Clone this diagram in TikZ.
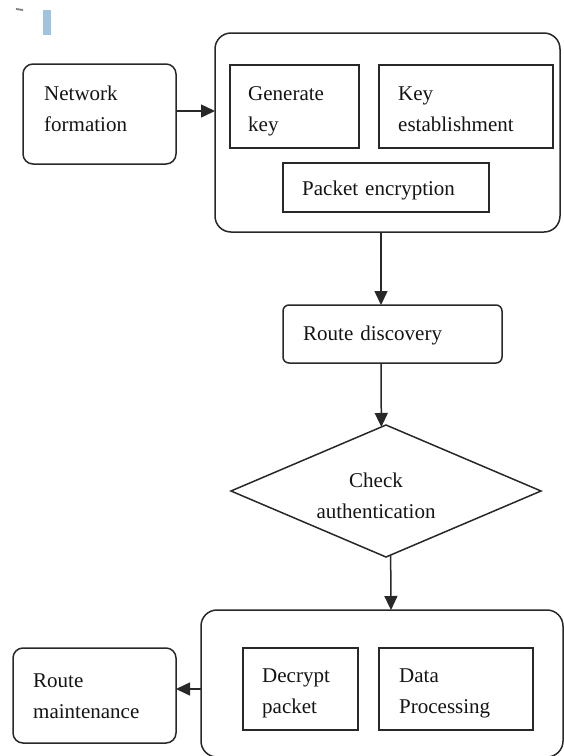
\documentclass[tikz,border=0pt]{standalone}
\usepackage{fontspec}
\setmainfont{Liberation Serif}
\usetikzlibrary{arrows.meta,shapes.geometric,calc}
\definecolor{lc}{RGB}{40,40,40}
\definecolor{tc}{RGB}{20,20,20}
\definecolor{barblue}{RGB}{160,195,222}
\begin{document}
\begin{tikzpicture}[x=1pt,y=-1pt,
  boxbase/.style={draw=lc, line width=1.5pt, inner sep=0pt, outer sep=0pt, fill=white},
  sbox/.style={boxbase},
  rbox/.style={boxbase, rounded corners=#1},
  dia/.style={boxbase, diamond},
  txt/.style={font=\fontsize{21}{31}\selectfont, text=tc, inner sep=0pt, anchor=base west, text width=#1, align=left},
  ctxt/.style={font=\fontsize{21}{31}\selectfont, text=tc, inner sep=0pt, anchor=base, text width=#1, align=center},
  arr/.style={draw=lc, line width=1.5pt, -{Triangle[length=14pt,width=13pt]}}
]
\useasboundingbox (0,0) rectangle (564,756);
% stray marks at the top left
\fill[barblue] (43,10) rectangle (51,35);
\draw[gray, line width=1.8pt] (16,9) -- (23,10);

% top group
\node[rbox=10pt, minimum width=153pt, minimum height=100pt] (nf) at (99.5,114) {};
\node[txt=140pt] (nft) at (44,100) {Network\\formation};
\node[rbox=16pt, minimum width=345pt, minimum height=199pt] (top) at (387.5,132.5) {};
\node[sbox, minimum width=129pt, minimum height=83pt] (gk) at (294.5,106.5) {};
\node[txt=110pt] (gkt) at (248,100) {Generate\\key};
\node[sbox, minimum width=174pt, minimum height=83pt] (ke) at (466,106.5) {};
\node[txt=150pt] (ket) at (398,100) {Key\\establishment};
\node[sbox, minimum width=206pt, minimum height=49pt] (pe) at (386,187.5) {};
\node[txt=180pt] (pet) at (302,195) {Packet encryption};

% middle
\node[rbox=6pt, minimum width=219pt, minimum height=58pt] (rd) at (392.5,334) {};
\node[txt=190pt] (rdt) at (303,340) {Route discovery};
\node[dia, minimum width=310pt, minimum height=132pt] (ca) at (386,491) {};
\node[ctxt=170pt] (cat) at (376,487) {Check\\authentication};

% bottom group
\node[rbox=16pt, minimum width=362pt, minimum height=147pt] (bot) at (382,683.5) {};
\node[sbox, minimum width=115pt, minimum height=82pt] (dp) at (300.5,689) {};
\node[txt=95pt] (dpt) at (262,682) {Decrypt\\packet};
\node[sbox, minimum width=154pt, minimum height=82pt] (dpr) at (456,689) {};
\node[txt=130pt] (dprt) at (399,682) {Data\\Processing};
\node[rbox=10pt, minimum width=163pt, minimum height=95pt] (rm) at (94.5,695.5) {};
\node[txt=140pt] (rmt) at (33,687) {Route\\maintenance};

% guide coordinates for connector lines
\coordinate (c1) at (381,0);
\coordinate (c2) at (391,0);
\coordinate (c3) at (0,689);
\coordinate (c4) at (0,111);

% connectors
\draw[arr] (nf.east |- c4) -- (top.west |- c4);
\draw[arr] (top.south -| c1) -- (rd.north -| c1);
\draw[arr] (rd.south -| c1) -- ($(ca.north)!0.03!(ca.west)$);
\draw[arr] ($(ca.south)!0.03!(ca.east)$) -- (bot.north -| c2);
\draw[arr] (bot.west |- c3) -- (rm.east |- c3);
\end{tikzpicture}
\end{document}
